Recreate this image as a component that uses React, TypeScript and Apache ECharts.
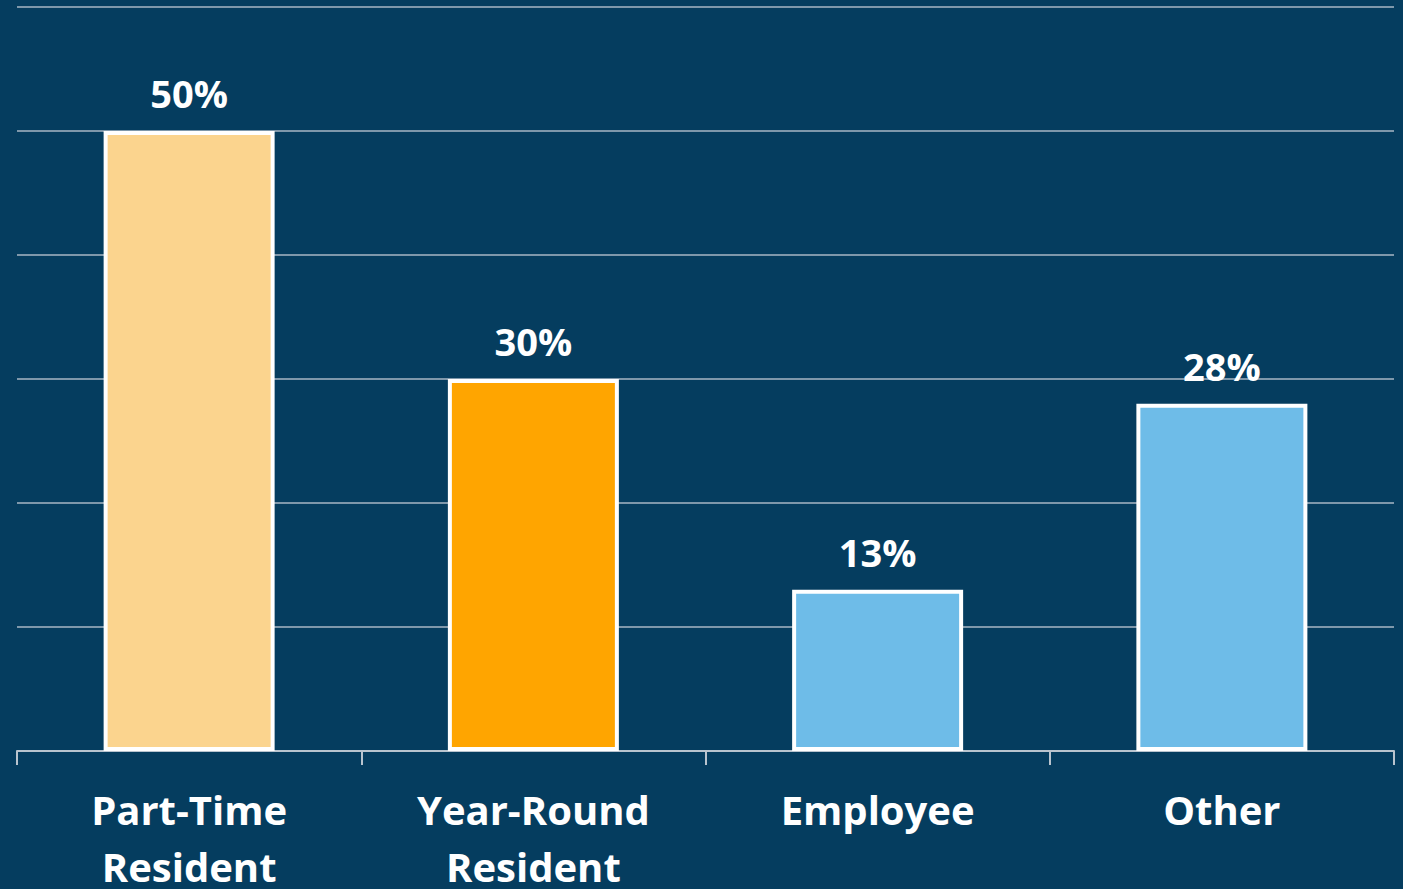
import React, { useEffect, useRef } from "react";
import * as echarts from "echarts";

const categories = ["Part-Time\nResident", "Year-Round\nResident", "Employee", "Other"];
const values = [50, 30, 13, 28];
const barColors = ["#FBD48E", "#FFA500", "#6EBCE8", "#6EBCE8"];
const yTicks = { min: 0, max: 60, interval: 10 };

export default function App() {
  const ref = useRef<HTMLDivElement>(null);
  useEffect(() => {
    if (!ref.current) return;
    const chart = echarts.init(ref.current, undefined, { renderer: "svg" });
    chart.setOption({
      animation: false,
      backgroundColor: "#053d5f",
      grid: {
        left: 17,
        right: 9,
        top: 7,
        bottom: 138,
        containLabel: false,
        outerBoundsMode: "none",
      },
      xAxis: {
        type: "category",
        data: categories,
        axisLine: { lineStyle: { color: "#b9c4ce", width: 2 } },
        axisTick: { show: true, length: 14, lineStyle: { color: "#b9c4ce", width: 2 } },
        axisLabel: {
          color: "#ffffff",
          fontFamily: "Open Sans",
          fontWeight: "bold",
          fontSize: 40,
          lineHeight: 57,
          margin: 30,
        },
      },
      yAxis: {
        type: "value",
        min: yTicks.min,
        max: yTicks.max,
        interval: yTicks.interval,
        axisLabel: { show: false },
        axisLine: { show: false },
        axisTick: { show: false },
        splitLine: { lineStyle: { color: "#7f98ab", width: 2 } },
      },
      series: [
        {
          type: "bar",
          barWidth: 171,
          data: values.map((v, i) => ({
            value: v,
            itemStyle: { color: barColors[i] },
          })),
          itemStyle: { borderColor: "#ffffff", borderWidth: 4 },
          label: {
            show: true,
            position: "top",
            distance: 19,
            formatter: "{c}%",
            color: "#ffffff",
            fontFamily: "Open Sans",
            fontWeight: "bold",
            fontSize: 38,
          },
        },
      ],
    });
    return () => chart.dispose();
  }, []);
  return (
    <div
      ref={ref}
      style={{ position: "fixed", left: 0, top: 0, width: 1403, height: 889 }}
    />
  );
}
